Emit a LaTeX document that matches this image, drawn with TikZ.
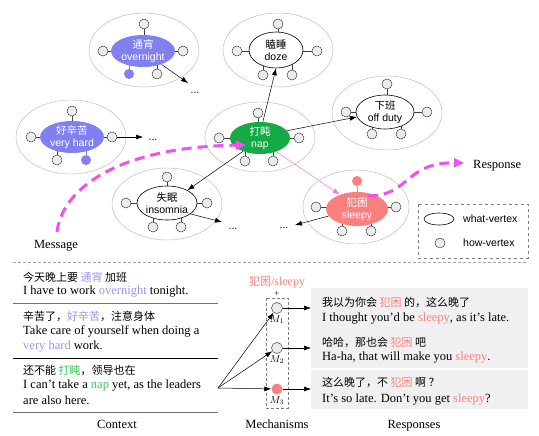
\documentclass[tikz,border=0pt]{standalone}
\usepackage{fontspec}
\setmainfont{Liberation Serif}
\setsansfont{Liberation Sans}
\newfontfamily\cjk{Noto Sans CJK SC}
\usetikzlibrary{shapes.geometric, arrows.meta, backgrounds, positioning}

\definecolor{violetfill}{RGB}{128,128,240}
\definecolor{violettext}{RGB}{150,150,245}
\definecolor{napgreen}{RGB}{20,170,70}
\definecolor{napgreentext}{RGB}{60,200,90}
\definecolor{sleepyred}{RGB}{250,128,128}
\definecolor{sleepytext}{RGB}{250,130,130}
\definecolor{msgmagenta}{RGB}{240,80,240}
\definecolor{vertexgray}{RGB}{232,238,238}
\definecolor{respgray}{RGB}{240,240,240}

\tikzset{
  outerv/.style={ellipse, draw=gray!60, line width=0.4pt, minimum width=110pt, minimum height=74pt},
  whatv/.style={ellipse, draw=black, line width=0.6pt, fill=white, inner sep=-3pt, align=center,
    font=\fontsize{10.5}{12.5}\sffamily},
  colored/.style={draw=none, text=white},
  howv/.style={circle, draw=black!75, fill=vertexgray, line width=0.5pt, minimum size=10pt, inner sep=0pt},
  stub/.style={draw=black!75, line width=0.5pt},
  arr/.style={-{Latex[length=7pt,width=5pt]}, line width=0.5pt},
  pinkarr/.style={-{Latex[length=7pt,width=5pt]}, draw=msgmagenta!80, line width=0.5pt},
  msgline/.style={draw=msgmagenta, line width=3pt, dash pattern=on 10pt off 6pt,
    -{Triangle[length=10pt,width=9pt]}},
  dotsnode/.style={inner sep=0pt, font=\fontsize{10.5}{12}\sffamily},
  en/.style={anchor=base west, inner sep=0pt, font=\fontsize{12.5}{15}\selectfont},
  zh/.style={anchor=base west, inner sep=0pt, font=\fontsize{11}{13}\cjk},
  caption/.style={anchor=base, inner sep=0pt, font=\fontsize{12.5}{15}\selectfont},
  legendtext/.style={anchor=west, inner sep=0pt, font=\fontsize{10.5}{12}\sffamily},
  mlabel/.style={inner sep=0.5pt, font=\fontsize{10}{12}\selectfont}
}

\begin{document}
\begin{tikzpicture}[x=1pt, y=-1pt]
\useasboundingbox (0,0) rectangle (539,436);

\node[outerv] (ovO) at (144,50) {};
\node[outerv] (dzO) at (278,50) {};
\node[outerv] (odO) at (387,113) {};
\node[outerv] (vhO) at (71,137) {};
\node[outerv, minimum height=70pt] (npO) at (260,137) {};
\node[outerv, minimum height=72pt] (insO) at (167,204) {};
\node[outerv, minimum width=106pt] (slO) at (356,207) {};

\node[whatv, colored, fill=violetfill, minimum width=64pt, minimum height=32pt] (ov) at (143,51) {{\cjk 通宵}\\overnight};
\node[whatv, minimum width=54pt, minimum height=36pt] (dz) at (276,50) {{\cjk 瞌睡}\\doze};
\node[whatv, minimum width=58pt, minimum height=34pt] (od) at (385,112) {{\cjk 下班}\\off duty};
\node[whatv, colored, fill=violetfill, minimum width=64pt, minimum height=32pt] (vh) at (72,137) {{\cjk 好辛苦}\\very hard};
\node[whatv, colored, fill=napgreen, minimum width=60pt, minimum height=32pt] (np) at (260,138) {{\cjk 打盹}\\nap};
\node[whatv, minimum width=60pt, minimum height=34pt] (ins) at (167,203) {{\cjk 失眠}\\insomnia};
\node[whatv, colored, fill=sleepyred, minimum width=62pt, minimum height=34pt] (sl) at (357,209) {{\cjk 犯困}\\sleepy};

\node[howv] (ovT) at (144,24) {};
\node[howv] (ovL) at (103,51) {};
\node[howv] (ovR) at (183,51) {};
\node[howv, draw=none, fill=violetfill] (ovBL) at (129,74) {};
\node[howv] (ovBR) at (157,74) {};

\node[howv] (dzT) at (278,24) {};
\node[howv] (dzL) at (237,51) {};
\node[howv] (dzR) at (317,51) {};
\node[howv] (dzBL) at (263,75) {};
\node[howv] (dzBR) at (292,75) {};

\node[howv] (odT) at (387,84) {};
\node[howv] (odL) at (346,112) {};
\node[howv] (odR) at (427,112) {};
\node[howv] (odBL) at (372,134) {};
\node[howv] (odBR) at (401,134) {};

\node[howv] (vhT) at (72,111) {};
\node[howv] (vhL) at (31,137) {};
\node[howv] (vhR) at (112,137) {};
\node[howv] (vhBL) at (57,160) {};
\node[howv, draw=none, fill=violetfill] (vhBR) at (86,160) {};

\node[howv] (npT) at (258,113) {};
\node[howv] (npL) at (219,138) {};
\node[howv] (npR) at (299,138) {};
\node[howv] (npBL) at (245,161) {};
\node[howv] (npBR) at (273,161) {};

\node[howv] (insT) at (167,177) {};
\node[howv] (insL) at (126,203) {};
\node[howv] (insR) at (207,203) {};
\node[howv] (insBL) at (153,227) {};
\node[howv] (insBR) at (181,227) {};

\node[howv, draw=none, fill=sleepyred] (slT) at (357,181) {};
\node[howv] (slL) at (316,207) {};
\node[howv] (slR) at (396,207) {};
\node[howv] (slBL) at (342,231) {};
\node[howv] (slBR) at (371,231) {};

\begin{scope}[on background layer]
  \foreach \c in {ov,dz,od,vh,np,ins,sl}{
    \draw[stub] (\c T) -- (\c T |- \c);
    \draw[stub] (\c L) -- (\c L -| \c);
    \draw[stub] (\c R) -- (\c R -| \c);
    \draw[stub] (\c BL) -- (\c BL |- \c);
    \draw[stub] (\c BR) -- (\c BR |- \c);
  }
  \draw[stub, draw=violetfill] (ovBL) -- (ovBL |- ov);
  \draw[stub, draw=violetfill] (vhBR) -- (vhBR |- vh);
  \draw[stub, draw=sleepyred] (slT) -- (slT |- sl);
\end{scope}

\coordinate (ovEnd) at (188,83);
\coordinate (vhEnd) at (143,137);
\coordinate (insEnd) at (222,222);
\coordinate (slEnd) at (295,225);
\node[dotsnode] (ovDots) at (195,93) {...};
\node[dotsnode] (vhDots) at (153,140) {...};
\node[dotsnode] (insDots) at (233,229) {...};
\node[dotsnode] (slDots) at (284,228) {...};

\draw[arr] (ov.324) -- (ovEnd);
\draw[arr] (vhR) -- (vhEnd);
\draw[arr] (ins.335) -- (insEnd);
\draw[arr] (sl.194) -- (slEnd);
\draw[arr] (np.80) -- (dz.south);
\draw[arr] (np.15) -- (od.190);
\draw[arr] (np.218) -- (ins.32);
\draw[pinkarr] (np.320) -- (sl.140);

\node[caption] (msg) at (56,248) {Message};
\node[caption, anchor=base west] (resp) at (473,168) {Response};
\coordinate (msgStart) at (57,232);
\coordinate (msgEnd) at (246,145);
\coordinate (respStart) at (368,196);
\coordinate (respEnd) at (464,163);
\draw[msgline] (msgStart) .. controls (62,190) and (115,147) .. (msgEnd);
\draw[msgline] (respStart) .. controls (410,196) and (405,162) .. (respEnd);

\draw[dashed, gray] (418,204) rectangle (528,258);
\node[whatv, minimum width=30pt, minimum height=12pt] (lgWhat) at (439,219) {};
\node[howv] (lgHow) at (440,243) {};
\node[legendtext] (lgWhatText) at (463,219) {what-vertex};
\node[legendtext] (lgHowText) at (463,243) {how-vertex};

\draw[gray!70, dash pattern=on 3pt off 2pt] (13,262) -- (527,262);

\node[zh] (c1zh) at (23,281) {今天晚上要 \textcolor{violettext}{通宵} 加班};
\node[en] (c1en) at (23,294) {I have to work \textcolor{violettext}{overnight} tonight.};
\draw[black!55, line width=0.8pt] (13,303) -- (218,303);
\node[zh] (c2zh) at (23,320) {辛苦了，\textcolor{violettext}{好辛苦}，注意身体};
\node[en] (c2en) at (23,334) {Take care of yourself when doing a};
\node[en] (c2en2) at (23,349) {\textcolor{violettext}{very hard} work.};
\draw[black, line width=0.8pt] (13,358) -- (218,358);
\node[zh] (c3zh) at (23,374) {还不能 \textcolor{napgreentext}{打盹}，领导也在};
\node[en] (c3en) at (23,388) {I can't take a \textcolor{napgreentext}{nap} yet, as the leaders};
\node[en] (c3en2) at (23,404) {are also here.};
\draw[black!55, line width=0.8pt] (13,412) -- (218,412);
\node[caption] (ctxCap) at (117,428) {Context};

\coordinate (ctx) at (218,388);
\draw[densely dashed, gray, line width=0.4pt] (266,298) rectangle (288,408);
\node[font=\fontsize{12}{14}\selectfont, text=sleepytext, inner sep=0pt] (mechWord) at (277,282) {{\fontsize{11}{13}\cjk 犯困}/sleepy};
\node[font=\fontsize{9}{10}\selectfont, inner sep=0pt] (mechPlus) at (277,294) {+};
\node[howv, minimum size=11pt] (m1) at (277,308) {};
\node[howv, minimum size=11pt] (m2) at (277,348) {};
\node[howv, minimum size=11pt, draw=none, fill=sleepyred] (m3) at (277,389) {};
\node[mlabel, below=1pt of m1] (m1lab) {$M_1$};
\node[mlabel, below=1pt of m2] (m2lab) {$M_2$};
\node[mlabel, below=1pt of m3] (m3lab) {$M_3$};
\draw[arr] (ctx) -- (m1);
\draw[arr] (ctx) -- (m2);
\draw[arr] (ctx) -- (m3);
\node[caption] (mechCap) at (277,428) {Mechanisms};

\fill[respgray] (311,288) rectangle (528,368);
\fill[respgray] (311,370) rectangle (528,409);
\coordinate (r1) at (311,308);
\coordinate (r2) at (311,348);
\coordinate (r3) at (311,389);
\draw[arr] (m1) -- (r1);
\draw[arr] (m2) -- (r2);
\draw[arr] (m3) -- (r3);
\node[zh] (r1zh) at (322,306) {我以为你会 \textcolor{sleepytext}{犯困} 的，这么晚了};
\node[en] (r1en) at (322,321) {I thought you'd be \textcolor{sleepytext}{sleepy}, as it's late.};
\node[zh] (r2zh) at (322,346) {哈哈，那也会 \textcolor{sleepytext}{犯困} 吧};
\node[en] (r2en) at (322,360) {Ha-ha, that will make you \textcolor{sleepytext}{sleepy}.};
\node[zh] (r3zh) at (322,386) {这么晚了，不 \textcolor{sleepytext}{犯困} 啊 ？};
\node[en] (r3en) at (322,402) {It's so late. Don't you get \textcolor{sleepytext}{sleepy}?};
\node[caption] (respCap) at (414,428) {Responses};
\end{tikzpicture}
\end{document}
